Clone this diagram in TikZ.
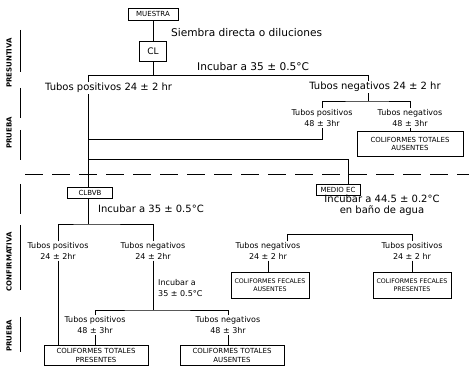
\documentclass[tikz,border=0pt]{standalone}
\usepackage{fontspec}
\setmainfont{DejaVu Sans}
\begin{document}
\begin{tikzpicture}[x=1pt,y=-1pt,
  ln/.style={line width=0.9pt},
  big/.style={font=\fontsize{10}{11}\selectfont, inner sep=1pt, align=center},
  huge/.style={font=\fontsize{10.6}{12}\selectfont, inner sep=1pt, align=center},
  txt/.style={font=\fontsize{8}{11}\selectfont, inner sep=1pt, align=center},
  lbox/.style={draw, line width=0.8pt, font=\fontsize{7}{8.5}\selectfont, inner sep=1.5pt, align=center},
  fbox/.style={lbox, font=\fontsize{6.3}{8.5}\selectfont, minimum width=78pt, minimum height=26pt},
  tbox/.style={lbox, minimum width=104pt, minimum height=20pt, inner ysep=1pt},
  side/.style={font=\bfseries\fontsize{7}{7}\selectfont, rotate=90, inner sep=0pt}]
\useasboundingbox (0,0) rectangle (469,366);

% ---------- prueba presuntiva ----------
\node[lbox, minimum width=50pt, minimum height=12pt] (muestra) at (153,14) {MUESTRA};
\node[lbox, font=\fontsize{9}{10}\selectfont, minimum width=27pt, minimum height=20pt] (cl) at (153,51.5) {CL};
\node[huge, anchor=west] (siembra) at (170,33) {Siembra directa o diluciones};
\node[huge, anchor=west] (inc1) at (196,67) {Incubar a 35 ± 0.5°C};
\coordinate (t) at (153,75);
\coordinate (tl) at (88,75);
\coordinate (tr) at (368,75);
\draw[ln] (muestra) -- (cl);
\draw[ln] (cl) -- (t);
\draw[ln] (tl) -- (tr);

\node[big, anchor=west] (pos24) at (44,88) {Tubos positivos 24 ± 2 hr};
\node[big] (neg24) at (375,87) {Tubos negativos 24 ± 2 hr};
\draw[ln] (tl) -- (tl |- pos24.north);
\draw[ln] (tr) -- (tr |- neg24.north);
\coordinate (b1) at (368,101);
\draw[ln] (neg24.south -| b1) -- (b1);
\node[txt] (pos48) at (322,118) {Tubos positivos\\48 ± 3hr};
\node[txt] (neg48) at (410,118) {Tubos negativos\\48 ± 3hr};
\draw[ln] (pos48.north) |- (b1) -| (neg48.north);
\node[lbox, minimum width=106pt, minimum height=25pt] (ausT) at (410,144) {COLIFORMES TOTALES\\AUSENTES};
\draw[ln] (neg48.south) -- (ausT.north);

\coordinate (l1) at (88,139);
\draw[ln] (pos48.south) |- (l1);
\coordinate (l2) at (88,159);
\node[lbox, minimum width=44pt, minimum height=11pt] (medio) at (338,190) {MEDIO EC};
\draw[ln] (l2) -| ([xshift=10pt]medio.north);
\node[lbox, minimum width=45pt, minimum height=11pt] (clbvb) at (90,192.5) {CLBVB};
\draw[ln] (tl |- pos24.south) -- (clbvb.north -| tl);

\coordinate (dl) at (25,174);
\coordinate (dr) at (469,174);
\draw[ln, dash pattern=on 18pt off 9pt] (dl) -- (dr);

% ---------- prueba confirmativa: CLBVB ----------
\node[big, anchor=west] (inc3) at (97,209) {Incubar a 35 ± 0.5°C};
\coordinate (h4) at (88,224);
\draw[ln] (clbvb.south -| h4) -- (h4);
\node[txt] (posC) at (58,251) {Tubos positivos\\24 ± 2hr};
\node[txt] (negC) at (153,251) {Tubos negativos\\24 ± 2hr};
\draw[ln] (posC.north) |- (h4) -| (negC.north);
\node[txt, anchor=west, align=left] (inc4) at (157,288) {Incubar a\\35 ± 0.5°C};
\coordinate (h5) at (153,310);
\draw[ln] (negC.south) -- (h5);
\node[txt] (pos48b) at (95,325) {Tubos positivos\\48 ± 3hr};
\node[txt] (neg48b) at (228,325) {Tubos negativos\\48 ± 3hr};
\draw[ln] (pos48b.north) |- (h5) -| (neg48b.north);
\node[tbox, anchor=north] (presT) at (96,345) {COLIFORMES TOTALES\\PRESENTES};
\node[tbox, anchor=north] (ausT2) at (232,345) {COLIFORMES TOTALES\\AUSENTES};
\draw[ln] (posC.south) -- (posC.south |- presT.north);
\draw[ln] (pos48b.south) -- (pos48b.south |- presT.north);
\draw[ln] (neg48b.south) -- (neg48b.south |- ausT2.north);

% ---------- prueba confirmativa: medio EC ----------
\node[big] (inc2) at (382,205.5) {Incubar a 44.5 ± 0.2°C\\en baño de agua};
\node[txt] (negEC) at (268,251) {Tubos negativos\\24 ± 2 hr};
\node[txt] (posEC) at (412,251) {Tubos positivos\\24 ± 2 hr};
\draw[ln] ([xshift=19pt]negEC.north) -- ++(0,-7) -| (posEC.north);
\node[fbox] (fecA) at (270,285) {COLIFORMES FECALES\\AUSENTES};
\node[fbox] (fecP) at (412,285) {COLIFORMES FECALES\\PRESENTES};
\draw[ln] (negEC.south) -- (negEC.south |- fecA.north);
\draw[ln] (posEC.south) -- (posEC.south |- fecP.north);

% ---------- side labels ----------
\node[side] (lp1) at (9,63) {PRESUNTIVA};
\node[side] (lp2) at (9,133) {PRUEBA};
\node[side] (lc1) at (9,262) {CONFIRMATIVA};
\node[side] (lc2) at (9,336) {PRUEBA};
\draw[ln] (20,30) -- (20,72);
\draw[ln] (20,88) -- (20,118);
\draw[ln] (20,130) -- (20,160);
\draw[ln] (20,184) -- (20,214);
\draw[ln] (20,225) -- (20,290);
\draw[ln] (20,317) -- (20,352);
\end{tikzpicture}
\end{document}
